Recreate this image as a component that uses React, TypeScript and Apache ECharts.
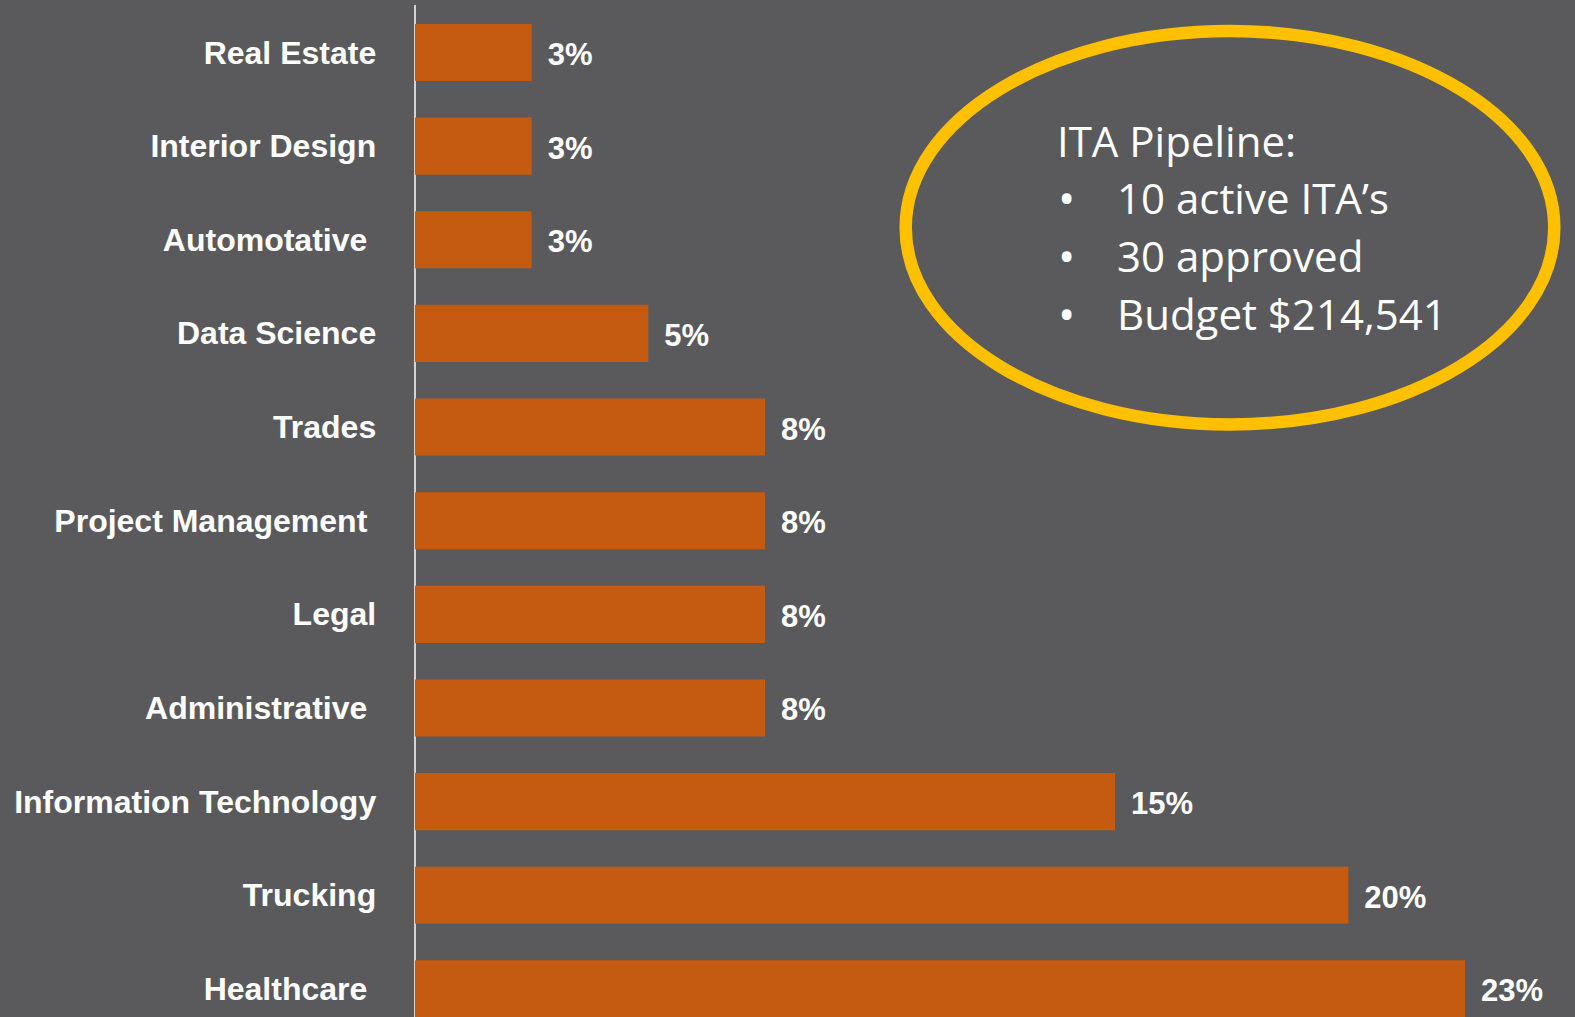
import React, { useEffect, useRef } from "react";
import * as echarts from "echarts";

const categories = [
  "Real Estate",
  "Interior Design",
  "Automotative ",
  "Data Science",
  "Trades",
  "Project Management ",
  "Legal",
  "Administrative ",
  "Information Technology",
  "Trucking",
  "Healthcare ",
];
const shares = [2.5, 2.5, 2.5, 5, 7.5, 7.5, 7.5, 7.5, 15, 20, 22.5];
const shareLabels = ["3%", "3%", "3%", "5%", "8%", "8%", "8%", "8%", "15%", "20%", "23%"];

const boxTitle = "ITA Pipeline:";
const boxBullets = ["10 active ITA\u2019s", "30 approved", "Budget $214,541"];

export default function App() {
  const ref = useRef<HTMLDivElement>(null);
  useEffect(() => {
    if (!ref.current) return;
    const chart = echarts.init(ref.current, null, { renderer: "svg" });
    const textFont = '"Open Sans", "Noto Sans", sans-serif';
    const graphics: any[] = [
      {
        type: "ellipse",
        shape: { cx: 1230, cy: 227.7, rx: 324.3, ry: 196.7 },
        style: { fill: "none", stroke: "#FFC000", lineWidth: 12.5 },
        z: 10,
      },
      {
        type: "text",
        x: 1057,
        y: 140,
        style: {
          text: boxTitle,
          fill: "#FFFFFF",
          font: `42px ${textFont}`,
          verticalAlign: "middle",
          align: "left",
        },
        z: 10,
      },
    ];
    boxBullets.forEach((t, i) => {
      const y = 197 + i * 58;
      graphics.push({
        type: "text",
        x: 1058,
        y,
        style: { text: "\u2022", fill: "#FFFFFF", font: `46px ${textFont}`, verticalAlign: "middle", align: "left" },
        z: 10,
      });
      graphics.push({
        type: "text",
        x: 1117,
        y,
        style: { text: t, fill: "#FFFFFF", font: `42px ${textFont}`, verticalAlign: "middle", align: "left" },
        z: 10,
      });
    });

    chart.setOption({
      animation: false,
      backgroundColor: "#5A5A5C",
      grid: { left: 415, top: 5.7, height: 1030, right: 40, containLabel: false, outerBoundsMode: "none" },
      xAxis: {
        type: "value",
        min: 0,
        max: 24,
        show: false,
      },
      yAxis: {
        type: "category",
        data: categories,
        inverse: true,
        offset: 1.3,
        axisLine: { show: true, lineStyle: { color: "#D4D4D4", width: 2 } },
        axisTick: { show: false },
        splitLine: { show: false },
        axisLabel: {
          interval: 0,
          margin: 37.5,
          color: "#FFFFFF",
          fontSize: 32,
          fontWeight: "bold",
          fontFamily: '"Liberation Sans", Arial, sans-serif',
        },
      },
      series: [
        {
          type: "bar",
          data: shares,
          barCategoryGap: "39%",
          itemStyle: { color: "#C55A11" },
          label: {
            show: true,
            position: "right",
            distance: 16,
            offset: [0, 2],
            color: "#FFFFFF",
            fontSize: 31,
            fontWeight: "bold",
            fontFamily: '"Liberation Sans", Arial, sans-serif',
            formatter: (p: any) => shareLabels[p.dataIndex],
          },
        },
      ],
      graphic: graphics,
    });
    return () => chart.dispose();
  }, []);
  return (
    <div
      ref={ref}
      style={{ position: "fixed", left: 0, top: 0, width: 1575, height: 1017 }}
    />
  );
}
